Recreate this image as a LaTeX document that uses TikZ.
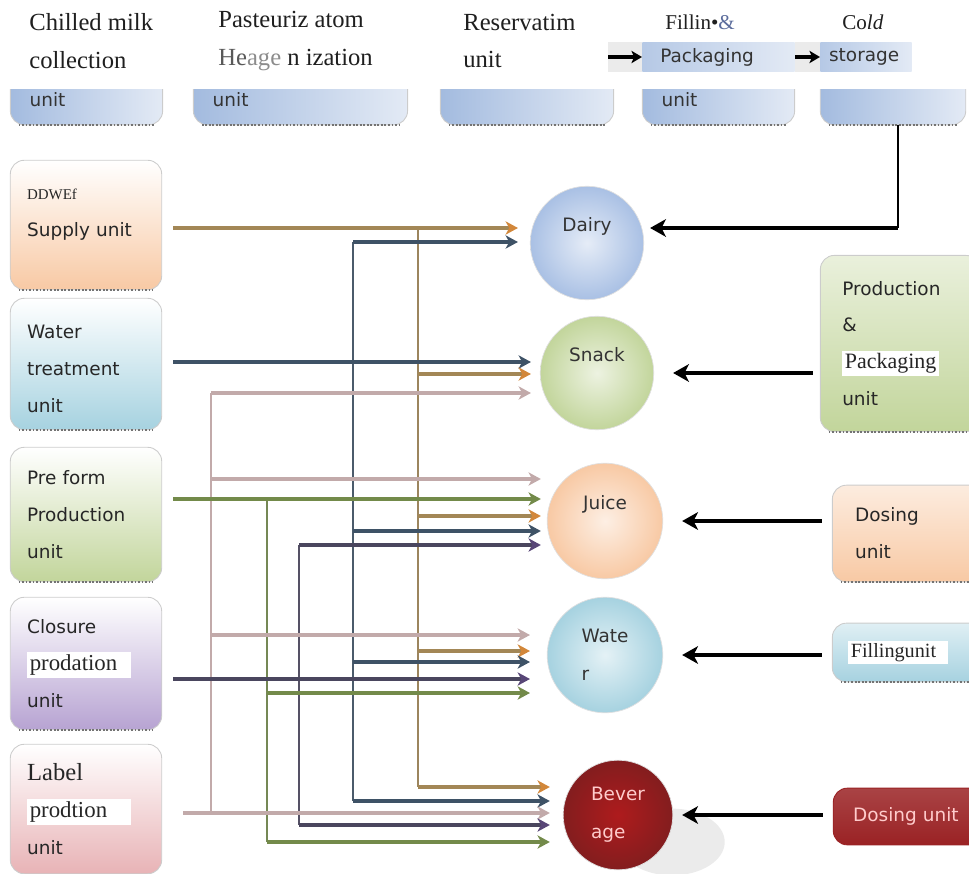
\documentclass[tikz,border=0pt]{standalone}
\usepackage{fontspec}
\setmainfont{Liberation Serif}
\setsansfont{DejaVu Sans}
\usetikzlibrary{arrows.meta,calc}

\definecolor{peach}{HTML}{F8C9A4}
\definecolor{aqua}{HTML}{A6D2E0}
\definecolor{sage}{HTML}{C2D59B}
\definecolor{lilac}{HTML}{B7A3D2}
\definecolor{blush}{HTML}{E8B3B6}
\definecolor{skyL}{HTML}{A3BBDF}
\definecolor{skyR}{HTML}{E3EAF5}
\definecolor{dairyblue}{HTML}{A9C0E4}
\definecolor{wine}{HTML}{9A2224}
\definecolor{tanline}{HTML}{A38756}
\definecolor{tantip}{HTML}{D2873A}
\definecolor{slateline}{HTML}{3E5266}
\definecolor{roseline}{HTML}{C2AAAA}
\definecolor{oliveline}{HTML}{738A4A}
\definecolor{plumline}{HTML}{4A465E}
\definecolor{plumtip}{HTML}{584677}
\definecolor{ampblue}{HTML}{5B6C9C}

\def\whiteword#1#2#3{{\fboxsep=1.5pt\colorbox{white}{\rmfamily\fontsize{#2}{#2}\selectfont\makebox[#1][l]{#3}}}}

\tikzset{
  box/.style={rectangle, rounded corners=8pt, draw=black!20, line width=0.5pt, align=left,
    inner ysep=0pt, text=black!85, font=\sffamily\fontsize{10.5}{21}\selectfont},
  topbox/.style={box, left color=skyL, right color=skyR, minimum height=28.3pt, inner xsep=11pt, text=black!80},
  srcbox/.style={box, top color=white, bottom color=#1, inner xsep=9.6pt, text width=67pt},
  sinkbox/.style={box, top color=#1!35, bottom color=#1},
  stripbox/.style={rectangle, left color=skyL!80, right color=skyR, inner ysep=0pt, align=left,
    minimum height=17pt, text=black!80, font=\sffamily\fontsize{10.5}{12}\selectfont},
  hub/.style={circle, draw=black!12, inner sep=0pt, align=left, inner color=#1!30, outer color=#1,
    text=black!80, font=\sffamily\fontsize{10.5}{21.5}\selectfont},
  head/.style={anchor=west, align=left, inner sep=0pt, text=black!88, font=\rmfamily\fontsize{14}{21.5}\selectfont},
  rim/.style={densely dotted, line width=1pt, black!55},
  bus/.style={line width=1.1pt, draw=#1},
  feed/.style args={#1/#2}{line width=2pt, draw=#1, -{Stealth[length=7pt,width=7.5pt,inset=2pt,color=#2]}},
  src/.style={shorten <=6.2pt},
  todairy/.style={shorten >=6.8pt},
  tosnack/.style={shorten >=5.1pt},
  tojuice/.style={shorten >=3.4pt},
  towater/.style={shorten >=9.6pt},
  tobev/.style={shorten >=7.4pt},
  feedback/.style={line width=2.6pt, black, -{Stealth[length=9pt,width=10pt,inset=2.5pt]}},
  stripin/.style={line width=2pt, black, -{Stealth[length=6pt,width=7pt,inset=1.5pt]}}
}

\begin{document}
\begin{tikzpicture}[x=0.02cm,y=-0.02cm]
	\useasboundingbox (0,0) rectangle (969,874);
	\clip (0,0) rectangle (969,874);
	
	%%%%% top units %%%%%
	\node[topbox, text width=64.7pt] (chill) at (86.5,100) {unit};
	\node[topbox, text width=99.9pt] (past) at (300.5,100) {unit};
	\node[topbox, text width=76.6pt] (reserv) at (527,100) {};
	\node[topbox, text width=64.7pt] (fillpack) at (718.5,100) {unit};
	\node[topbox, text width=60.8pt] (cold) at (893,100) {};
	\draw[rim] ([xshift=5pt]chill.south west) -- ([xshift=-5pt]chill.south east)
		([xshift=5pt]past.south west) -- ([xshift=-5pt]past.south east)
		([xshift=5pt]reserv.south west) -- ([xshift=-5pt]reserv.south east)
		([xshift=5pt]fillpack.south west) -- ([xshift=-5pt]fillpack.south east)
		([xshift=5pt]cold.south west) -- ([xshift=-5pt]cold.south east);
	\fill[white] (0,0) rectangle (969,89);
	
	% pasted strip
	\fill[black!8] (608,42) rectangle (642,72);
	\fill[black!8] (795,42) rectangle (820,72);
	\node[stripbox, inner xsep=10.2pt, text width=66.3pt] (packstrip) at (718.5,57) {Packaging};
	\node[stripbox, inner xsep=5pt, text width=42pt] (storestrip) at (866,57) {storage};
	\coordinate (stripfeed) at (608,57);
	\draw[stripin] (stripfeed) -- (packstrip.west);
	\draw[stripin] (packstrip.east) -- (storestrip.west);
	
	% headings
	\node[head] (hdchill) at (29,41) {Chilled milk\\collection};
	\node[head] (hdpast) at (218,41) {Pasteuriz atom\\{\color{black!65}He}{\color{black!45}age} n ization};
	\node[head] (hdres) at (463,41) {Reservatim\\unit};
	\node[head, font=\rmfamily\fontsize{12}{14}\selectfont] (hdfill) at (665,22) {Fillin\textbullet{\color{ampblue}\&}};
	\node[head, font=\rmfamily\fontsize{12}{14}\selectfont] (hdcold) at (842,22) {Co\textit{ld}};
	
	%%%%% source units %%%%%
	\node[srcbox=peach, minimum height=73.7pt] (supply) at (86,225)
		{{\rmfamily\fontsize{8.5}{10}\selectfont DDWEf}\\Supply unit\\[-7pt]\mbox{}};
	\node[srcbox=aqua, minimum height=74.8pt] (treat) at (86,364) {\rule{0pt}{13pt}Water\\treatment\\unit};
	\node[srcbox=sage, minimum height=76.5pt] (preform) at (86,514.5) {Pre form\\Production\\unit};
	\node[srcbox=lilac, minimum height=75.4pt] (closure) at (86,663.5)
		{Closure\\\whiteword{56pt}{13}{prodation}\\unit};
	\node[srcbox=blush, minimum height=73.7pt] (labelu) at (86,809)
		{{\rmfamily\fontsize{14}{14}\selectfont Label}\\\whiteword{56pt}{13}{prodtion}\\unit};
	\draw[rim] ([xshift=5pt]supply.south west) -- ([xshift=-5pt]supply.south east)
		([xshift=5pt]treat.south west) -- ([xshift=-5pt]treat.south east)
		([xshift=5pt]preform.south west) -- ([xshift=-5pt]preform.south east)
		([xshift=5pt]closure.south west) -- ([xshift=-5pt]closure.south east);
	
	%%%%% product lines %%%%%
	\fill[black!8] (672,842) ellipse [x radius=30pt, y radius=19pt];
	\node[hub=dairyblue, minimum size=64.6pt] (dairy) at (587,243) {Dairy\\\mbox{}};
	\node[hub=sage, minimum size=64.6pt] (snack) at (597,373) {Snack\\\mbox{}};
	\node[hub=peach, minimum size=65.8pt] (juice) at (605,521) {Juice\\\mbox{}};
	\node[hub=aqua, minimum size=65.8pt] (water) at (605,655) {Wate\\r};
	\node[hub=wine, inner color=wine!80!red, outer color=wine!85!black, text=red!20!white,
		minimum size=62.4pt] (bev) at (618,815) {Bever\\age};
	
	%%%%% right units %%%%%
	\node[sinkbox=sage, inner xsep=12.5pt, text width=65.7pt, minimum height=100.3pt] (prodpack) at (900,343.5)
		{Production\\\&\\\whiteword{52pt}{12.5}{Packaging}\\unit};
	\node[sinkbox=peach, inner xsep=13pt, text width=60.7pt, minimum height=55pt] (dosing) at (908.5,533.5)
		{Dosing\\unit};
	\node[sinkbox=aqua, inner xsep=9pt, text width=68.7pt, minimum height=33.4pt] (filling) at (908.5,652.5)
		{\whiteword{54pt}{11.5}{Fillingunit}};
	\node[box, top color=wine!85!white, bottom color=wine, draw=wine, text=red!20!white, inner xsep=11.3pt,
		text width=63.6pt, minimum height=32.3pt] (dosingb) at (909,816.5) {Dosing unit};
	\draw[rim] ([xshift=5pt]prodpack.south west) -- ([xshift=-5pt]prodpack.south east)
		([xshift=5pt]dosing.south west) -- ([xshift=-5pt]dosing.south east)
		([xshift=5pt]filling.south west) -- ([xshift=-5pt]filling.south east);
	
	%%%%% buses %%%%%
	\coordinate (tanTop) at (418,228);
	\coordinate (tanS) at (418,374);
	\coordinate (tanJ) at (418,516);
	\coordinate (tanW) at (418,651);
	\coordinate (tanB) at (418,787);
	\coordinate (slaTop) at (353,242);
	\coordinate (slaS) at (353,362);
	\coordinate (slaJ) at (353,531);
	\coordinate (slaW) at (353,662);
	\coordinate (slaB) at (353,801);
	\coordinate (roseS) at (211,393);
	\coordinate (roseJ) at (211,479);
	\coordinate (roseW) at (211,635);
	\coordinate (roseB) at (211,813);
	\coordinate (oliJ) at (267,499);
	\coordinate (oliW) at (267,693);
	\coordinate (oliB) at (267,842);
	\coordinate (pluJ) at (299,545);
	\coordinate (pluW) at (299,679);
	\coordinate (pluB) at (299,825);
	
	\draw[bus=roseline] (roseS) -- (roseB);
	\draw[bus=oliveline!80!gray] (oliJ) -- (oliB);
	\draw[bus=plumline!80!gray] (pluJ) -- (pluB);
	\draw[bus=slateline!80!gray] (slaTop) -- (slaB);
	\draw[bus=tanline!80!gray] (tanTop) -- (tanB);
	
	% dairy
	\draw[feed=tanline/tantip, src, todairy] (supply.east |- tanTop) -- (tanTop -| dairy.west);
	\draw[feed=slateline/slateline, todairy] (slaTop) -- (slaTop -| dairy.west);
	% snack
	\draw[feed=slateline/slateline, src, tosnack] (treat.east |- slaS) -- (slaS -| snack.west);
	\draw[feed=tanline/tantip, tosnack] (tanS) -- (tanS -| snack.west);
	\draw[feed=roseline/roseline, tosnack] (roseS) -- (roseS -| snack.west);
	% juice
	\draw[feed=roseline/roseline, tojuice] (roseJ) -- (roseJ -| juice.west);
	\draw[feed=oliveline/oliveline, src, tojuice] (preform.east |- oliJ) -- (oliJ -| juice.west);
	\draw[feed=tanline/tantip, tojuice] (tanJ) -- (tanJ -| juice.west);
	\draw[feed=slateline/slateline, tojuice] (slaJ) -- (slaJ -| juice.west);
	\draw[feed=plumline/plumtip, tojuice] (pluJ) -- (pluJ -| juice.west);
	% water
	\draw[feed=roseline/roseline, towater] (roseW) -- (roseW -| water.west);
	\draw[feed=tanline/tantip, towater] (tanW) -- (tanW -| water.west);
	\draw[feed=slateline/slateline, towater] (slaW) -- (slaW -| water.west);
	\draw[feed=plumline/plumtip, src, towater] (closure.east |- pluW) -- (pluW -| water.west);
	\draw[feed=oliveline/oliveline, towater] (oliW) -- (oliW -| water.west);
	% beverage
	\draw[feed=tanline/tantip, tobev] (tanB) -- (tanB -| bev.west);
	\draw[feed=slateline/slateline, tobev] (slaB) -- (slaB -| bev.west);
	\draw[feed=roseline/roseline, shorten <=11.9pt, tobev] (labelu.east |- roseB) -- (roseB -| bev.west);
	\draw[feed=plumline/plumtip, tobev] (pluB) -- (pluB -| bev.west);
	\draw[feed=oliveline/oliveline, tobev] (oliB) -- (oliB -| bev.west);
	
	%%%%% returns %%%%%
	\coordinate (coldturn) at (898,228);
	\draw[line width=1.2pt] (coldturn |- cold.south) -- (coldturn);
	\draw[feedback, shorten >=3.4pt] (coldturn) -- (coldturn -| dairy.east);
	\draw[feedback, shorten <=4pt, shorten >=10.8pt] (prodpack.west |- snack.east) -- (snack.east);
	\draw[feedback, shorten <=5.7pt, shorten >=10.8pt] (dosing.west |- juice.east) -- (juice.east);
	\draw[feedback, shorten <=5.7pt, shorten >=10.8pt] (filling.west |- water.east) -- (water.east);
	\draw[feedback, shorten <=5.7pt, shorten >=5.1pt] (dosingb.west |- bev.east) -- (bev.east);
	
\end{tikzpicture}
\end{document}
